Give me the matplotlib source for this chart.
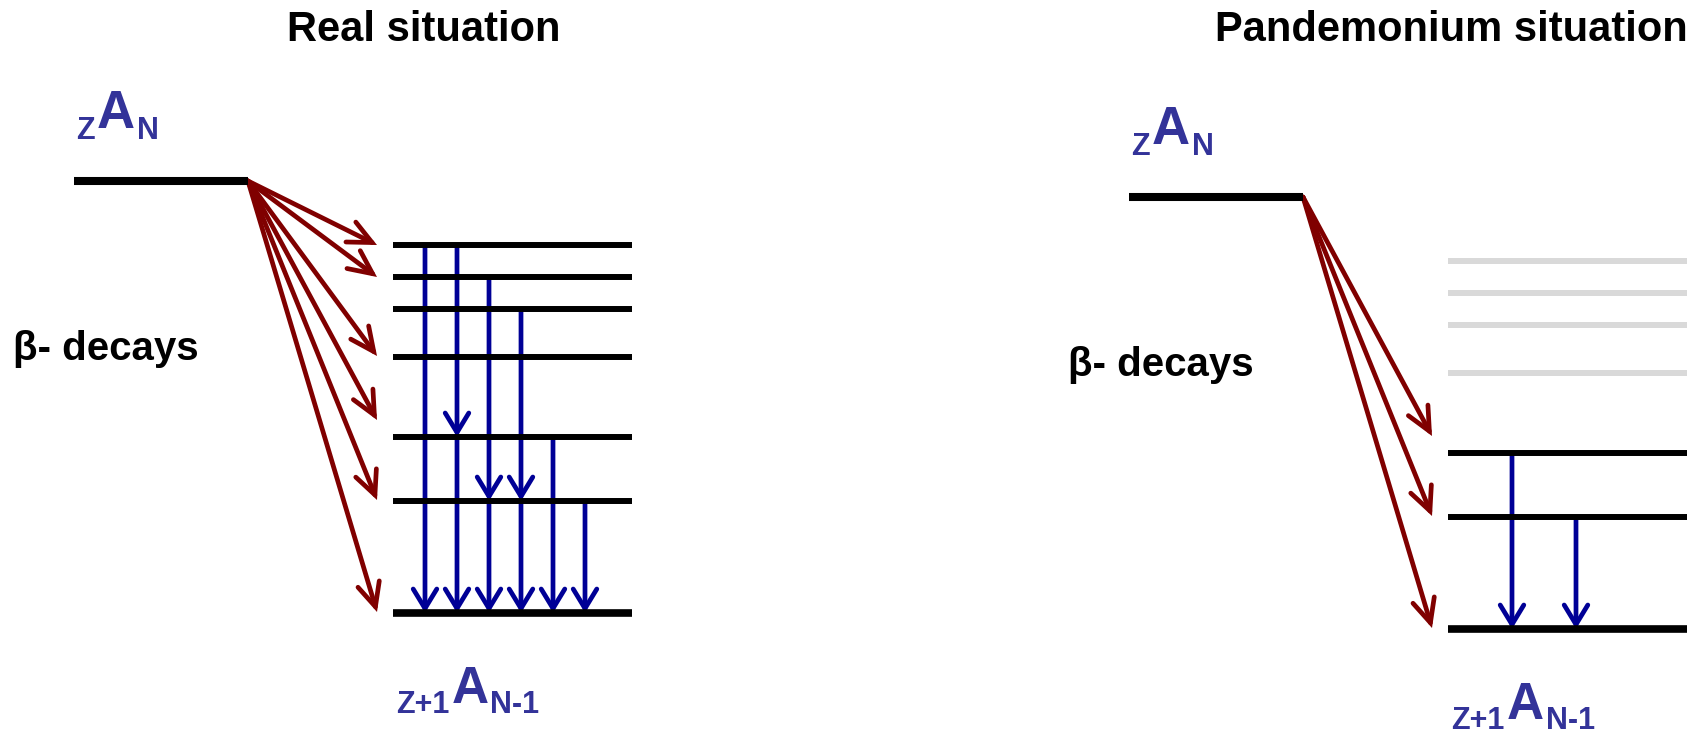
import matplotlib
matplotlib.use("Agg")
import matplotlib.pyplot as plt
from matplotlib.patches import FancyArrowPatch

plt.rcParams['font.family'] = ['Liberation Sans', 'DejaVu Sans']

# Level energies (arbitrary units, ground state of daughter = 0)
PARENT_E = 432
LEVELS = [0, 112, 176, 256, 304, 336, 368]

# Real situation: where the beta arrows stop, and gamma cascades (column, from, to)
real_beta_ends = [368, 336, 257, 193, 113, 1]
real_gammas = [
    (1, 368, 0),
    (2, 368, 176), (2, 176, 0),
    (3, 336, 112), (3, 112, 0),
    (4, 304, 112), (4, 112, 0),
    (5, 176, 0),
    (6, 112, 0),
]

# Pandemonium situation: only the low levels are seen
pand_seen = [0, 112, 176]
pand_missed = [256, 304, 336, 368]
pand_beta_ends = [193, 113, 1]
pand_gammas = [(2, 176, 0), (4, 112, 0)]

titles = ['Real situation', 'Pandemonium situation']
title_x = [424, 1451]

RED = '#800000'
BLUE = '#000096'
LABEL = '#333399'
GREY = '#d9d9d9'


def arrow(ax, p0, p1, color, lw, hl, hw):
    style = '->,head_length=%g,head_width=%g' % (hl, hw)
    a = FancyArrowPatch(p0, p1, arrowstyle=style, mutation_scale=1, lw=lw,
                        color=color, shrinkA=0, shrinkB=0,
                        joinstyle='miter', capstyle='round')
    ax.add_patch(a)


def nuclide(ax, x, y, parts):
    r = ax.figure.canvas.get_renderer()
    inv = ax.transData.inverted()
    for s, size, rise in parts:
        t = ax.text(x, y - rise, s, fontsize=size, fontweight='bold',
                    color=LABEL, va='baseline', ha='left')
        bb = t.get_window_extent(r)
        x = inv.transform((bb.x1, bb.y0))[0] + 2


def panel(ax, x0, ground, black, grey, beta_ends, gammas):
    y = lambda e: ground - e

    # parent level
    ax.plot([x0 + 74, x0 + 248], [y(PARENT_E)] * 2, color='black', lw=5.8,
            solid_capstyle='butt')
    # daughter levels
    for e in grey:
        ax.plot([x0 + 393, x0 + 632], [y(e)] * 2, color=GREY, lw=4.3,
                solid_capstyle='butt')
    for e in black:
        ax.plot([x0 + 393, x0 + 632], [y(e)] * 2, color='black',
                lw=5.5 if e == 0 else 4.3, solid_capstyle='butt')

    # beta feeding
    for e in beta_ends:
        arrow(ax, (x0 + 248, y(PARENT_E)), (x0 + 377, y(e)), RED, 3.4, 17, 8)

    # gamma rays
    for col, e1, e2 in gammas:
        xc = x0 + 393 + 32 * col
        arrow(ax, (xc, y(e1)), (xc, y(e2)), BLUE, 3.4, 14, 8.5)

    ax.text(x0 + 13, y(253), 'β- decays', fontsize=29, fontweight='bold',
            va='baseline', ha='left', color='black')
    nuclide(ax, x0 + 76, y(474), [('Z', 22, 0), ('A', 38, 11), ('N', 22, 0)])
    nuclide(ax, x0 + 396, y(-100), [('Z+1', 22, 0), ('A', 37, 10), ('N-1', 22, 0)])


fig = plt.figure(figsize=(17.03, 7.35), dpi=100)
ax = fig.add_axes([0, 0, 1, 1])
ax.set_xlim(0, 1703)
ax.set_ylim(735, 0)
ax.axis('off')

panel(ax, 0, 613, LEVELS, [], real_beta_ends, real_gammas)
panel(ax, 1055, 629, pand_seen, pand_missed, pand_beta_ends, pand_gammas)

for t, x in zip(titles, title_x):
    ax.text(x, 41, t, fontsize=30, fontweight='bold', ha='center', va='baseline')

fig.savefig('out.png', dpi=100)
